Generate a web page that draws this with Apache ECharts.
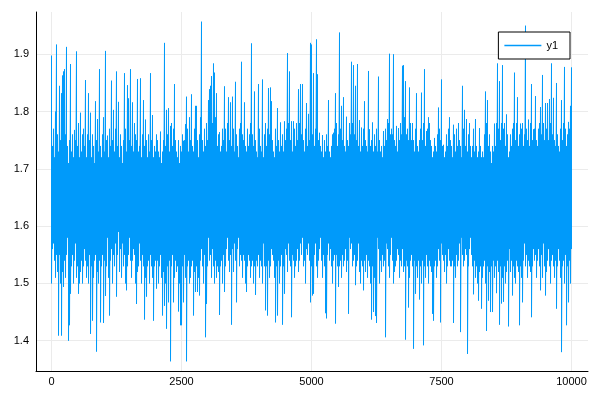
<!DOCTYPE html>
<html>
<head>
<meta charset="utf-8">
<script src="https://cdn.jsdelivr.net/npm/echarts@6/dist/echarts.min.js"></script>
<style>html,body{margin:0;padding:0;background:#fff}#c{width:600px;height:400px}</style>
</head>
<body>
<div id="c"></div>
<script>
// Upper extreme of the trace in each pixel-wide slice
const highs = [
1.898,1.74,1.77,1.72,1.80,1.917,1.76,1.73,1.845,1.75,1.832,1.863,1.87,1.874,1.76,1.913,1.74,1.71,1.75,1.883,
1.73,1.76,1.72,1.768,1.75,1.905,1.74,1.78,1.72,1.798,1.73,1.76,1.77,1.74,1.855,1.72,1.76,1.832,1.75,1.798,
1.72,1.76,1.74,1.71,1.818,1.75,1.787,1.73,1.874,1.74,1.72,1.76,1.79,1.73,1.906,1.75,1.758,1.72,1.77,1.74,
1.854,1.75,1.803,1.73,1.77,1.87,1.74,1.817,1.72,1.76,1.74,1.71,1.75,1.867,1.77,1.73,1.846,1.823,1.75,1.874,
1.74,1.816,1.73,1.78,1.76,1.75,1.857,1.73,1.74,1.858,1.72,1.76,1.82,1.74,1.786,1.75,1.72,1.76,1.73,1.867,
1.75,1.794,1.72,1.74,1.73,1.76,1.75,1.73,1.72,1.765,1.71,1.73,1.75,1.92,1.74,1.803,1.76,1.806,1.73,1.775,
1.78,1.74,1.77,1.848,1.75,1.73,1.72,1.75,1.71,1.74,1.73,1.76,1.749,1.75,1.778,1.826,1.77,1.73,1.79,1.75,
1.83,1.74,1.73,1.77,1.81,1.81,1.75,1.72,1.76,1.79,1.957,1.75,1.73,1.77,1.74,1.78,1.75,1.82,1.839,1.845,
1.862,1.78,1.884,1.868,1.79,1.832,1.74,1.76,1.764,1.73,1.74,1.77,1.75,1.844,1.77,1.73,1.78,1.825,1.75,1.816,
1.74,1.826,1.77,1.73,1.852,1.76,1.74,1.72,1.77,1.78,1.887,1.76,1.75,1.816,1.74,1.73,1.77,1.74,1.76,1.78,
1.919,1.76,1.74,1.835,1.75,1.73,1.72,1.848,1.77,1.74,1.73,1.856,1.72,1.76,1.78,1.74,1.77,1.841,1.76,1.842,
1.818,1.75,1.73,1.72,1.77,1.74,1.806,1.75,1.73,1.781,1.74,1.76,1.73,1.783,1.75,1.77,1.902,1.78,1.87,1.75,
1.783,1.73,1.783,1.77,1.74,1.78,1.75,1.839,1.78,1.848,1.76,1.848,1.75,1.73,1.77,1.815,1.74,1.796,1.75,1.92,
1.917,1.76,1.867,1.74,1.77,1.926,1.865,1.75,1.763,1.74,1.73,1.759,1.72,1.75,1.73,1.76,1.74,1.82,1.73,1.72,
1.74,1.76,1.763,1.77,1.832,1.78,1.74,1.76,1.938,1.77,1.81,1.75,1.825,1.74,1.73,1.791,1.75,1.74,1.78,1.76,
1.887,1.78,1.881,1.76,1.845,1.75,1.883,1.74,1.785,1.73,1.772,1.74,1.77,1.818,1.75,1.74,1.73,1.871,1.769,1.74,
1.75,1.781,1.73,1.76,1.74,1.77,1.73,1.861,1.75,1.73,1.74,1.72,1.766,1.74,1.77,1.75,1.787,1.78,1.901,1.76,
1.77,1.76,1.90,1.75,1.74,1.775,1.73,1.771,1.75,1.78,1.76,1.88,1.881,1.79,1.853,1.76,1.77,1.75,1.842,1.78,
1.75,1.78,1.75,1.73,1.77,1.832,1.74,1.73,1.75,1.77,1.833,1.75,1.78,1.874,1.74,1.766,1.77,1.79,1.78,1.75,
1.74,1.72,1.73,1.754,1.74,1.73,1.76,1.807,1.77,1.75,1.856,1.74,1.742,1.72,1.73,1.76,1.74,1.77,1.79,1.75,
1.74,1.72,1.777,1.76,1.73,1.77,1.74,1.78,1.75,1.74,1.72,1.845,1.77,1.803,1.74,1.787,1.73,1.76,1.78,1.74,
1.72,1.74,1.77,1.73,1.787,1.74,1.72,1.73,1.771,1.74,1.72,1.73,1.72,1.76,1.835,1.78,1.82,1.74,1.76,1.73,
1.71,1.74,1.73,1.779,1.74,1.78,1.884,1.77,1.853,1.75,1.78,1.881,1.77,1.78,1.74,1.795,1.76,1.72,1.73,1.76,
1.74,1.77,1.78,1.868,1.75,1.78,1.825,1.74,1.76,1.779,1.77,1.78,1.74,1.76,1.95,1.77,1.75,1.786,1.74,1.78,
1.848,1.75,1.769,1.77,1.827,1.75,1.74,1.77,1.78,1.808,1.76,1.864,1.78,1.75,1.815,1.77,1.815,1.75,1.822,1.78,
1.884,1.76,1.824,1.75,1.74,1.85,1.76,1.74,1.73,1.77,1.82,1.75,1.78,1.878,1.77,1.74,1.76,1.782,1.77,1.81,
1.877
];
// Lower extreme of the trace in each pixel-wide slice
const lows = [
1.50,1.56,1.57,1.54,1.51,1.55,1.52,1.409,1.55,1.50,1.409,1.52,1.494,1.54,1.51,1.55,1.58,1.40,1.427,1.482,
1.53,1.55,1.50,1.54,1.57,1.51,1.53,1.482,1.50,1.52,1.54,1.50,1.53,1.56,1.54,1.51,1.53,1.50,1.55,1.412,
1.53,1.435,1.51,1.54,1.55,1.381,1.52,1.50,1.54,1.432,1.53,1.55,1.431,1.54,1.478,1.53,1.58,1.51,1.444,1.54,
1.56,1.50,1.55,1.53,1.57,1.477,1.55,1.59,1.52,1.56,1.51,1.57,1.53,1.55,1.50,1.488,1.53,1.55,1.58,1.54,
1.51,1.54,1.56,1.55,1.50,1.464,1.52,1.53,1.57,1.54,1.50,1.55,1.53,1.437,1.51,1.477,1.53,1.54,1.50,1.55,
1.53,1.51,1.435,1.53,1.54,1.491,1.54,1.50,1.53,1.55,1.51,1.444,1.52,1.461,1.50,1.421,1.53,1.467,1.54,1.364,
1.53,1.55,1.467,1.51,1.54,1.52,1.53,1.451,1.50,1.427,1.427,1.53,1.467,1.55,1.51,1.364,1.53,1.54,1.50,1.51,
1.53,1.54,1.444,1.52,1.485,1.53,1.485,1.51,1.479,1.54,1.56,1.53,1.50,1.55,1.406,1.464,1.53,1.58,1.54,1.55,
1.51,1.56,1.53,1.50,1.54,1.51,1.53,1.52,1.445,1.53,1.54,1.50,1.55,1.485,1.53,1.56,1.58,1.54,1.52,1.55,
1.428,1.56,1.52,1.57,1.54,1.467,1.56,1.58,1.53,1.55,1.54,1.51,1.55,1.54,1.50,1.485,1.53,1.55,1.54,1.51,
1.53,1.54,1.50,1.53,1.48,1.54,1.53,1.55,1.51,1.54,1.53,1.50,1.57,1.53,1.453,1.53,1.444,1.54,1.51,1.53,
1.56,1.55,1.54,1.51,1.432,1.53,1.444,1.54,1.50,1.53,1.55,1.428,1.53,1.482,1.56,1.55,1.52,1.57,1.54,1.53,
1.441,1.55,1.54,1.51,1.53,1.54,1.56,1.52,1.54,1.57,1.55,1.58,1.53,1.54,1.50,1.56,1.55,1.57,1.54,1.467,
1.53,1.479,1.482,1.55,1.57,1.53,1.51,1.54,1.56,1.58,1.54,1.51,1.55,1.53,1.448,1.439,1.55,1.57,1.54,1.56,
1.53,1.50,1.54,1.55,1.43,1.55,1.53,1.494,1.53,1.54,1.51,1.55,1.53,1.54,1.56,1.52,1.54,1.447,1.58,1.56,
1.57,1.53,1.54,1.55,1.497,1.53,1.54,1.57,1.52,1.50,1.54,1.53,1.488,1.54,1.52,1.55,1.51,1.54,1.53,1.50,
1.437,1.53,1.45,1.51,1.443,1.431,1.58,1.56,1.50,1.54,1.52,1.55,1.53,1.54,1.406,1.57,1.56,1.53,1.51,1.55,
1.58,1.54,1.50,1.52,1.53,1.54,1.56,1.55,1.51,1.54,1.53,1.56,1.52,1.53,1.402,1.54,1.53,1.458,1.51,1.54,
1.55,1.53,1.386,1.54,1.482,1.53,1.51,1.54,1.472,1.53,1.50,1.54,1.392,1.53,1.51,1.55,1.53,1.50,1.54,1.53,
1.52,1.447,1.435,1.53,1.54,1.51,1.53,1.56,1.54,1.432,1.57,1.55,1.54,1.52,1.55,1.50,1.53,1.56,1.54,1.53,
1.53,1.54,1.431,1.53,1.51,1.55,1.53,1.54,1.57,1.415,1.58,1.55,1.53,1.54,1.56,1.55,1.377,1.53,1.56,1.58,
1.55,1.53,1.481,1.54,1.51,1.53,1.50,1.47,1.52,1.53,1.456,1.51,1.53,1.54,1.50,1.417,1.53,1.47,1.52,1.45,
1.53,1.45,1.54,1.51,1.53,1.483,1.54,1.52,1.428,1.53,1.465,1.51,1.468,1.53,1.50,1.52,1.54,1.425,1.56,1.52,
1.54,1.479,1.53,1.51,1.50,1.54,1.53,1.52,1.427,1.53,1.51,1.467,1.54,1.57,1.53,1.55,1.51,1.54,1.53,1.52,
1.441,1.53,1.56,1.54,1.55,1.51,1.54,1.56,1.53,1.488,1.55,1.51,1.57,1.53,1.479,1.52,1.54,1.56,1.53,1.50,
1.54,1.55,1.53,1.51,1.54,1.456,1.53,1.56,1.54,1.51,1.38,1.53,1.54,1.50,1.55,1.427,1.53,1.467,1.54,1.50,
1.56
];
const xStart = 0;
const xEnd = 10000;
const xTicks = [0, 2500, 5000, 7500, 10000];
const yTicks = [1.4, 1.5, 1.6, 1.7, 1.8, 1.9];
const seriesName = 'y1';

const xStep = (xEnd - xStart) / (highs.length - 1);
const data = [];
for (let i = 0; i < highs.length; i++) {
  const x = xStart + i * xStep;
  data.push([x, highs[i]]);
  data.push([x, lows[i]]);
}

const chart = echarts.init(document.getElementById('c'), null, {renderer: 'canvas'});
const font = 'Liberation Sans';
chart.setOption({
  animation: false,
  backgroundColor: '#fff',
  grid: {left: 36, right: 12, top: 12, bottom: 29, containLabel: false},
  legend: {
    right: 30, top: 32,
    backgroundColor: '#fff', borderColor: '#000', borderWidth: 1, borderRadius: 0,
    padding: [8, 12, 8, 6],
    itemWidth: 37, itemHeight: 1.5, itemGap: 5,
    icon: 'rect',
    textStyle: {fontFamily: font, fontSize: 11, color: '#000'},
    data: [seriesName]
  },
  xAxis: {
    type: 'value', min: -298.08, max: 10317.3,
    axisLine: {show: true, onZero: false, lineStyle: {color: '#000', width: 1}},
    axisTick: {show: false, customValues: xTicks},
    axisLabel: {customValues: xTicks, fontFamily: font, fontSize: 11, color: '#000', margin: 5,
      formatter: v => String(Math.round(v))},
    splitLine: {show: true, lineStyle: {color: '#ebebeb', width: 1}}
  },
  yAxis: {
    type: 'value', min: 1.347, max: 1.974,
    axisLine: {show: true, onZero: false, lineStyle: {color: '#000', width: 1}},
    axisTick: {show: false, customValues: yTicks},
    axisLabel: {customValues: yTicks, fontFamily: font, fontSize: 11, color: '#000', margin: 7,
      formatter: v => v.toFixed(1)},
    splitLine: {show: true, lineStyle: {color: '#ebebeb', width: 1}}
  },
  series: [{
    name: seriesName, type: 'line', data: data,
    showSymbol: false, symbol: 'none', sampling: null,
    lineStyle: {color: '#009AFA', width: 1},
    itemStyle: {color: '#009AFA'},
    emphasis: {disabled: true}
  }]
});
</script>
</body>
</html>
